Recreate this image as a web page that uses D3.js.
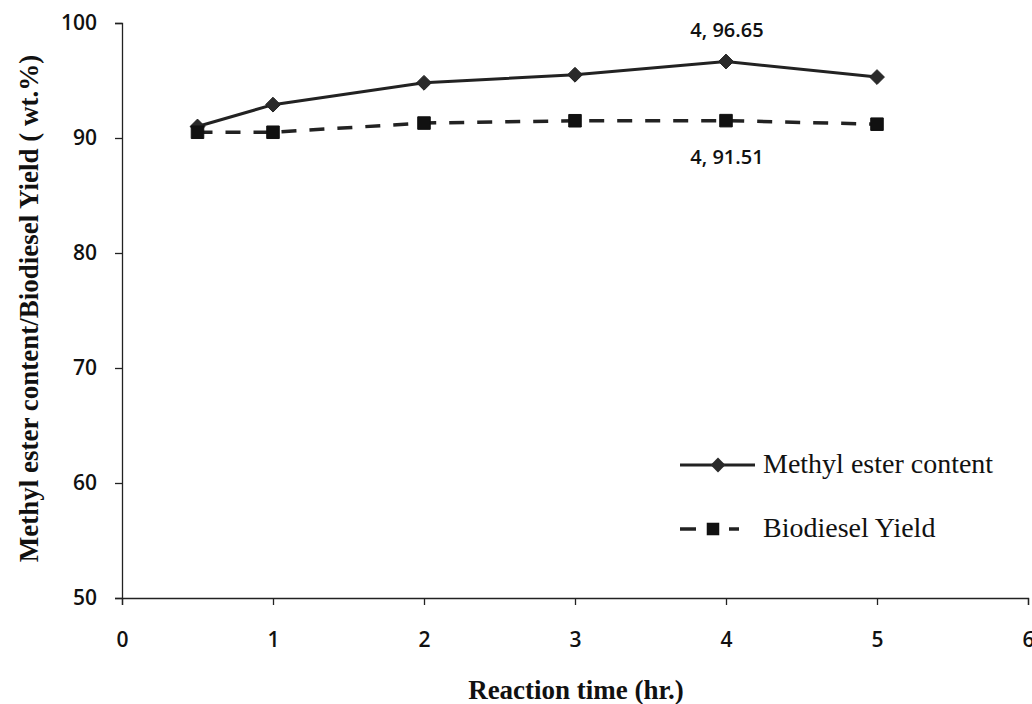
<!DOCTYPE html>
<html><head><meta charset="utf-8">
<script src="https://cdn.jsdelivr.net/npm/d3@7"></script>
<style>body{margin:0;background:#fff}svg{display:block}</style>
</head><body>
<svg id="chart" width="1032" height="704"></svg>
<script>
const times = [0.5, 1, 2, 3, 4, 5];
const methylEster = [91.0, 92.9, 94.8, 95.5, 96.65, 95.3];
const biodieselYield = [90.5, 90.5, 91.3, 91.5, 91.51, 91.2];
const xTicks = [0, 1, 2, 3, 4, 5, 6];
const yTicks = [50, 60, 70, 80, 90, 100];
const seriesNames = ["Methyl ester content", "Biodiesel Yield"];
const annotations = [{x: 4, y: 96.65, text: "4, 96.65", pos: "above"}, {x: 4, y: 91.51, text: "4, 91.51", pos: "below"}];
const xTitle = "Reaction time (hr.)";
const yTitle = "Methyl ester content/Biodiesel Yield ( wt.%)";

const svg = d3.select("#chart");
const x = d3.scaleLinear().domain([0, 6]).range([122, 1028]);
const y = d3.scaleLinear().domain([50, 100]).range([598, 23]);
const ink = "#222";
const tickFont = "'Open Sans', sans-serif";

// axes
const xAxis = svg.append("g").attr("transform", "translate(0,598)")
  .call(d3.axisBottom(x).tickValues(xTicks).tickSize(7).tickPadding(27).tickFormat(d3.format("d")));
const yAxis = svg.append("g").attr("transform", "translate(122,0)")
  .call(d3.axisLeft(y).tickValues(yTicks).tickSize(7).tickPadding(18).tickFormat(d3.format("d")));
[xAxis, yAxis].forEach(g => {
  g.select(".domain").attr("stroke", ink).attr("stroke-width", 1.3);
  g.selectAll(".tick line").attr("stroke", ink).attr("stroke-width", 1.3);
  g.selectAll(".tick text").attr("fill", "#111").style("font-family", tickFont)
    .style("font-size", "21px").style("font-weight", 600);
});

// lines
const line = d3.line().x(d => x(d[0])).y(d => y(d[1]));
const meData = times.map((t, i) => [t, methylEster[i]]);
const byData = times.map((t, i) => [t, biodieselYield[i]]);
svg.append("path").datum(byData).attr("d", line).attr("fill", "none")
  .attr("stroke", ink).attr("stroke-width", 3.5).attr("stroke-dasharray", "15,13");
svg.append("path").datum(meData).attr("d", line).attr("fill", "none")
  .attr("stroke", ink).attr("stroke-width", 3);

const diamond = d3.symbol().type(d3.symbolDiamond2).size(140);
const square = d3.symbol().type(d3.symbolSquare2).size(200);
svg.selectAll(".me").data(meData).join("path")
  .attr("transform", d => `translate(${x(d[0])},${y(d[1])})`)
  .attr("d", diamond).attr("fill", "#2a2a2a").attr("stroke", "#222").attr("stroke-width", 1);
svg.selectAll(".by").data(byData).join("path")
  .attr("transform", d => `translate(${x(d[0])},${y(d[1])})`)
  .attr("d", square).attr("fill", "#111").attr("stroke", "#111").attr("stroke-width", 1);

// annotations
svg.selectAll(".ann").data(annotations).join("text")
  .attr("x", d => x(d.x) + 1)
  .attr("y", d => d.pos === "above" ? y(d.y) - 25 : y(d.y) + 43)
  .attr("text-anchor", "middle")
  .style("font-family", tickFont).style("font-size", "20px").style("font-weight", 600)
  .attr("fill", "#111").text(d => d.text);

// legend
const lg = svg.append("g");
const ly1 = 465, ly2 = 529;
lg.append("line").attr("x1", 680).attr("x2", 755).attr("y1", ly1).attr("y2", ly1)
  .attr("stroke", ink).attr("stroke-width", 3);
lg.append("path").attr("transform", `translate(718,${ly1})`).attr("d", diamond).attr("fill", "#2a2a2a");
lg.append("line").attr("x1", 680).attr("x2", 696).attr("y1", ly2).attr("y2", ly2)
  .attr("stroke", ink).attr("stroke-width", 3.5);
lg.append("line").attr("x1", 729).attr("x2", 739).attr("y1", ly2).attr("y2", ly2)
  .attr("stroke", ink).attr("stroke-width", 3.5);
lg.append("path").attr("transform", `translate(713,${ly2})`).attr("d", square).attr("fill", "#111");
lg.selectAll("text.lt").data(seriesNames).join("text")
  .attr("x", 763).attr("y", (d, i) => (i === 0 ? ly1 : ly2) + 8)
  .style("font-family", "'Liberation Serif', serif").style("font-size", "28px")
  .attr("fill", "#111").text(d => d);

// titles
svg.append("text").attr("x", (x(0) + x(6)) / 2 + 1).attr("y", 699).attr("text-anchor", "middle")
  .style("font-family", "'Liberation Serif', serif").style("font-size", "27px").style("font-weight", "bold")
  .attr("fill", "#111").text(xTitle);
svg.append("text").attr("transform", `translate(38,${(y(50) + y(100)) / 2 - 2}) rotate(-90)`)
  .attr("text-anchor", "middle")
  .style("font-family", "'Liberation Serif', serif").style("font-size", "27px").style("font-weight", "bold")
  .attr("fill", "#111").text(yTitle);
</script>
</body></html>
